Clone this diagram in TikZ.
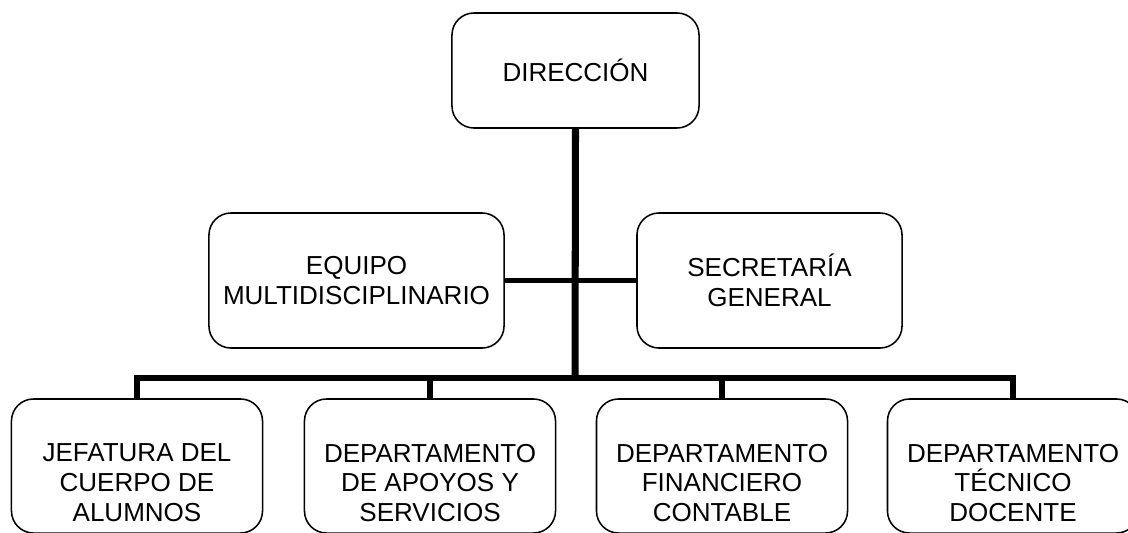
\documentclass[tikz,border=0pt]{standalone}
\usepackage{fontspec}
\setmainfont{Liberation Sans}
\usepackage{tikz}
\usetikzlibrary{positioning}
\tikzset
{
    orgbox/.style   = {rectangle, rounded corners=0.55cm, draw=black, line width=1.1pt, align=center, font=\fontsize{18.5}{21.3}\selectfont},
    topbox/.style   = {orgbox, minimum width=6.175cm, minimum height=2.875cm},
    midbox/.style   = {orgbox, minimum height=3.375cm},
    deptbox/.style  = {orgbox, minimum width=6.275cm, minimum height=3.35cm},
    depttext/.style = {align=center, inner sep=0pt, font=\fontsize{18.5}{21.3}\selectfont},
    trunk/.style    = {draw=black, line width=5pt},
    branch/.style   = {draw=black, line width=4pt}
}

\begin{document}
\begin{tikzpicture}[x=0.025cm, y=-0.025cm]
    \useasboundingbox (0,0) rectangle (1128,532);
    \node [topbox] (direccion) at (575.5,70.5) {DIRECCIÓN};
    \node [midbox, minimum width=7.375cm] (equipo) at (356.5,280.5) {EQUIPO\\MULTIDISCIPLINARIO};
    \node [midbox, minimum width=6.625cm] (secretaria) at (769.5,280.5) {SECRETARÍA\\GENERAL};
    \foreach \name/\xpos/\txt in {jefatura/137/{JEFATURA DEL\\CUERPO DE\\ALUMNOS},
                                  apoyos/430/{DEPARTAMENTO\\DE APOYOS Y\\SERVICIOS},
                                  financiero/722/{DEPARTAMENTO\\FINANCIERO\\CONTABLE},
                                  tecnico/1013/{DEPARTAMENTO\\TÉCNICO\\DOCENTE}}
    {
        \node [deptbox] (\name) at (\xpos,466) {};
        \node [depttext] (\name-txt) at (\xpos,483) {\txt};
    }
    \coordinate (bus) at (575,378);
    \draw [branch] (equipo.east) -- (secretaria.west);
    \draw [trunk] (direccion.south) -- (bus);
    \foreach \name in {jefatura, apoyos, financiero, tecnico}
        \draw [branch] (bus) -| (\name.north);
\end{tikzpicture}
\end{document}
